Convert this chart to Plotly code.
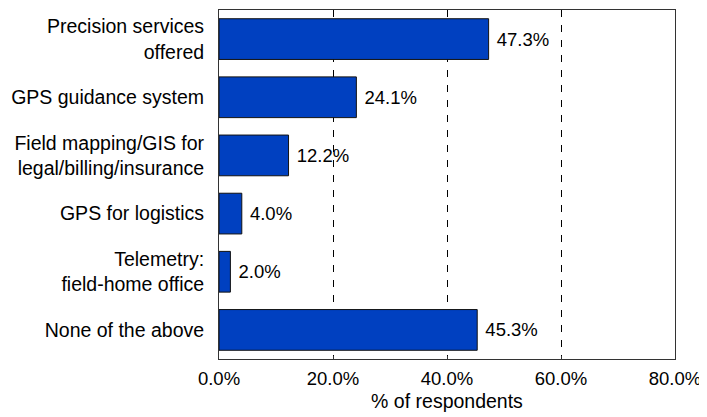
import plotly.graph_objects as go

categories = [
    "Precision services<br>offered",
    "GPS guidance system",
    "Field mapping/GIS for<br>legal/billing/insurance",
    "GPS for logistics",
    "Telemetry:<br>field-home office",
    "None of the above",
]
values = [47.3, 24.1, 12.2, 4.0, 2.0, 45.3]
x_ticks = [0, 20, 40, 60, 80]
x_tick_labels = ["0.0%", "20.0%", "40.0%", "60.0%", "80.0%"]

font = "Liberation Sans, Arial, sans-serif"
fs = 18.5

fig = go.Figure(go.Bar(
    y=categories,
    x=values,
    orientation="h",
    width=0.7,
    marker=dict(color="#0040C0", line=dict(color="#111111", width=1)),
    text=["\u00a0" + f"{v:.1f}%" for v in values],
    textposition="outside",
    textfont=dict(family=font, size=fs, color="black"),
    cliponaxis=False,
))

# page body has an 8px default margin, so the figure is sized to fit the window
fig.update_layout(
    width=699, height=409,
    margin=dict(l=211, r=32, t=2, b=58),
    paper_bgcolor="white", plot_bgcolor="white",
    showlegend=False,
    font=dict(family=font, size=fs, color="black"),
    bargap=0.3,
)
fig.update_xaxes(
    range=[0, 80],
    tickvals=x_ticks, ticktext=x_tick_labels,
    showgrid=True, gridcolor="black", griddash="7px,8px", gridwidth=1,
    showline=True, linecolor="#333333", linewidth=1, mirror=True,
    ticks="inside", ticklen=3, tickcolor="#333333",
    zeroline=False, automargin=False,
    ticklabelstandoff=3,
    title=dict(text="% of respondents", font=dict(size=19.5), standoff=6),
    tickfont=dict(size=fs),
)
fig.update_yaxes(
    autorange="reversed",
    showline=True, linecolor="#333333", linewidth=1, mirror=True,
    showgrid=False, ticks="", ticklabelstandoff=10, automargin=False,
    tickfont=dict(size=19.5),
)

fig.write_html("out.html")
